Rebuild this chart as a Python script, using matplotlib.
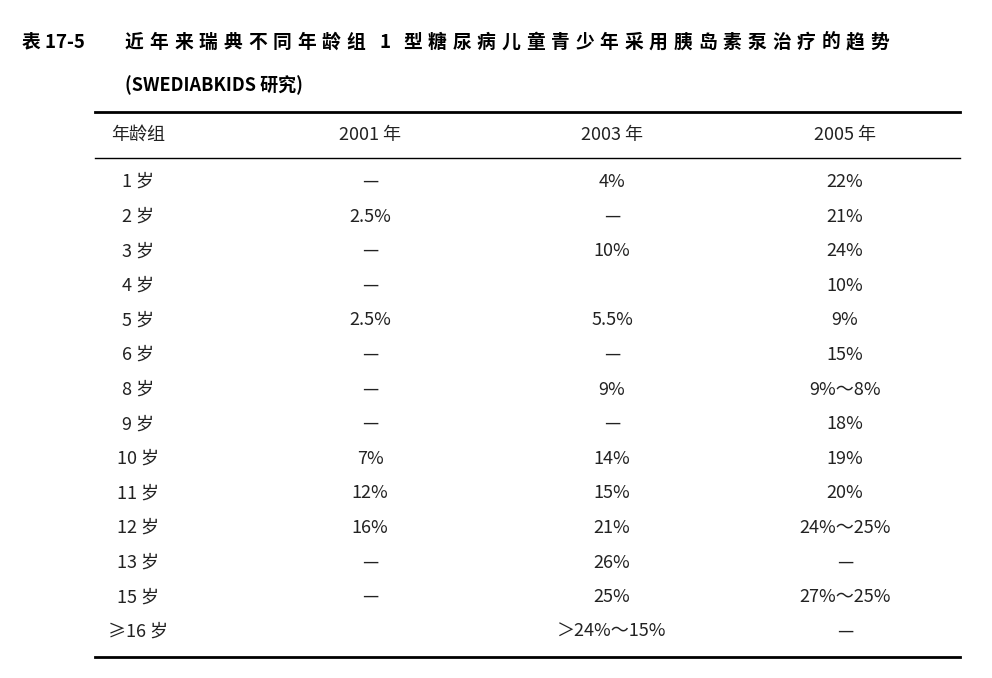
import matplotlib.pyplot as plt

plt.rcParams['font.family'] = ['Noto Sans CJK SC', 'DejaVu Sans']

title_num = "表 17-5"
title_l1 = "近年来瑞典不同年龄组 1 型糖尿病儿童青少年采用胰岛素泵治疗的趋势"
title_l2 = "(SWEDIABKIDS 研究)"
headers = ["年龄组", "2001 年", "2003 年", "2005 年"]
ages = ["1 岁", "2 岁", "3 岁", "4 岁", "5 岁", "6 岁", "8 岁", "9 岁",
        "10 岁", "11 岁", "12 岁", "13 岁", "15 岁", "≥16 岁"]
y2001 = ["—", "2.5%", "—", "—", "2.5%", "—", "—", "—", "7%", "12%", "16%", "—", "—", ""]
y2003 = ["4%", "—", "10%", "", "5.5%", "—", "9%", "—", "14%", "15%", "21%", "26%", "25%", "＞24%～15%"]
y2005 = ["22%", "21%", "24%", "10%", "9%", "15%", "9%～8%", "18%", "19%", "20%",
         "24%～25%", "—", "27%～25%", "—"]

fig = plt.figure(figsize=(9.92, 6.78), dpi=100)
ax = fig.add_axes([0, 0, 1, 1])
ax.set_xlim(0, 992)
ax.set_ylim(678, 0)
ax.axis('off')

# title, spread across the width like the printed original
ax.text(22, 42, title_num, fontsize=13.5, fontweight='bold', va='center')
x, step = 125, 24.6
for ch in title_l1:
    if ch == ' ':
        x += step * 0.35
        continue
    ax.text(x, 42, ch, fontsize=13.5, fontweight='bold', va='center')
    x += step * (0.6 if ch.isdigit() else 1)
ax.text(125, 85, title_l2, fontsize=13, fontweight='bold', va='center')

# rules
ax.plot([95, 960], [112, 112], color='black', lw=2)
ax.plot([95, 960], [158, 158], color='black', lw=1)
ax.plot([95, 960], [657, 657], color='black', lw=2)

col_x = [138, 370, 612, 845]
for cx, h in zip(col_x, headers):
    ax.text(cx, 135, h, fontsize=13, ha='center', va='center', color='#222')

y0, dy = 182, 34.6
for i, row in enumerate(zip(ages, y2001, y2003, y2005)):
    y = y0 + i * dy
    for cx, val in zip(col_x, row):
        ax.text(cx, y, val, fontsize=13, ha='center', va='center', color='#222')

fig.savefig('out.png', dpi=100)
